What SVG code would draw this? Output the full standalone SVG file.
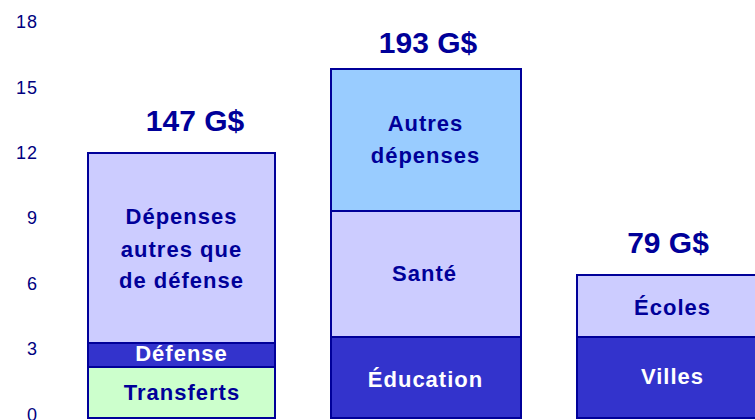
<svg xmlns="http://www.w3.org/2000/svg" width="755" height="420" viewBox="0 0 755 420">
<style>
.ax{font-family:"Liberation Sans",Arial,sans-serif;font-size:18px;letter-spacing:1px;fill:#000080;text-anchor:end}
.tot{font-family:"Liberation Sans",Arial,sans-serif;font-size:30px;font-weight:bold;fill:#000099;text-anchor:middle}
.lb{font-family:"Liberation Sans",Arial,sans-serif;font-size:22px;letter-spacing:1px;font-weight:bold;fill:#000099;text-anchor:middle}
.lw{font-family:"Liberation Sans",Arial,sans-serif;font-size:22px;letter-spacing:1px;font-weight:bold;fill:#ffffff;text-anchor:middle}
.seg{stroke:#000099;stroke-width:2}
</style>
<rect width="755" height="420" fill="#ffffff"/>
<g id="axis">
<text class="ax" x="38" y="28">18</text>
<text class="ax" x="38" y="94">15</text>
<text class="ax" x="38" y="159">12</text>
<text class="ax" x="38" y="224">9</text>
<text class="ax" x="38" y="290">6</text>
<text class="ax" x="38" y="355">3</text>
<text class="ax" x="38" y="421">0</text>
</g>
<g id="bar1">
<rect class="seg" x="88" y="153" width="187" height="190" fill="#CCCCFF"/>
<rect class="seg" x="88" y="343" width="187" height="24" fill="#3333CC"/>
<rect class="seg" x="88" y="367" width="187" height="51" fill="#CCFFCC"/>
<text class="tot" x="195" y="131">147 G$</text>
<text class="lb" x="181.5" y="224">Dépenses</text>
<text class="lb" x="181.5" y="256.5">autres que</text>
<text class="lb" x="181.5" y="287.5">de défense</text>
<text class="lw" x="181.5" y="360.5">Défense</text>
<text class="lb" x="182" y="400">Transferts</text>
</g>
<g id="bar2">
<rect class="seg" x="331" y="69" width="190" height="142" fill="#99CCFF"/>
<rect class="seg" x="331" y="211" width="190" height="126" fill="#CCCCFF"/>
<rect class="seg" x="331" y="337" width="190" height="81" fill="#3333CC"/>
<text class="tot" x="428" y="53">193 G$</text>
<text class="lb" x="425.5" y="131">Autres</text>
<text class="lb" x="425.5" y="163">dépenses</text>
<text class="lb" x="424.5" y="281">Santé</text>
<text class="lw" x="425.5" y="387">Éducation</text>
</g>
<g id="bar3">
<rect class="seg" x="577" y="275" width="190" height="62" fill="#CCCCFF"/>
<rect class="seg" x="577" y="337" width="190" height="81" fill="#3333CC"/>
<text class="tot" x="668" y="253">79 G$</text>
<text class="lb" x="672.5" y="315">Écoles</text>
<text class="lw" x="672.5" y="384">Villes</text>
</g>
<g id="connectors"/>
</svg>
